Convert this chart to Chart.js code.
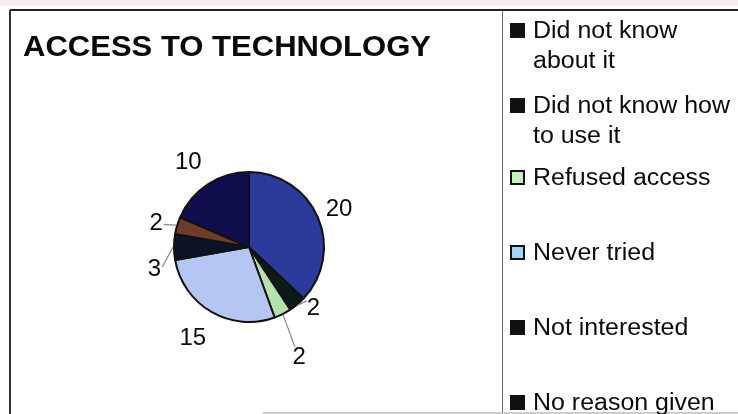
<!DOCTYPE html>
<html>
<head>
<meta charset="utf-8">
<script src="https://cdn.jsdelivr.net/npm/chart.js@4"></script>
<style>
  body { margin: 0; background: #fff; }
  #wrap { position: relative; width: 738px; height: 414px; overflow: hidden; font-family: "Liberation Sans", Arial, sans-serif; color: #0a0a0a; }
  #wrap canvas { position: absolute; left: 0; top: 0; }
  .line { position: absolute; background: #222; }
  #title { position: absolute; left: 23px; top: 32px; font-size: 29px; line-height: 29px; font-weight: bold; white-space: nowrap; transform: scaleX(1.07); transform-origin: left top; }
  .lg { position: absolute; font-size: 23px; line-height: 23px; white-space: nowrap; transform: scaleX(1.085); transform-origin: left top; }
  .sw { position: absolute; width: 15px; height: 15px; box-sizing: border-box; border: 2px solid #111; }
</style>
</head>
<body>
<div id="wrap">
  <canvas id="pie" width="738" height="414"></canvas>
  <div class="line" style="left:0;top:0;width:738px;height:6px;background:#f7ecee"></div>
  <div class="line" style="left:10px;top:9px;width:728px;height:2px"></div>
  <div class="line" style="left:9px;top:10px;width:2px;height:404px;background:#333"></div>
  <div class="line" style="left:502px;top:10px;width:1px;height:404px;background:#666"></div>
  <div class="line" style="left:263px;top:412px;width:475px;height:2px;background:#ccc"></div>
  <div id="title"></div>
  <div id="legend"></div>
</div>
<script>
const chartTitle = "ACCESS TO TECHNOLOGY";
const categories = ["Did not know about it", "Did not know how to use it", "Refused access", "Never tried", "Not interested", "No reason given", "Other"];
const values = [20, 2, 2, 15, 3, 2, 10];
const sliceColors = ["#2c3a9c", "#0b1c18", "#b6e2b0", "#b6c6f2", "#0a1426", "#6e3c28", "#110e4e"];
// legend as it shows in the picture (last entry is cut off by the frame)
const legendLines = [["Did not know", "about it"], ["Did not know how", "to use it"], ["Refused access"], ["Never tried"], ["Not interested"], ["No reason given"]];
const legendSwatch = ["#111", "#111", "#c6eec0", "#a8d2f2", "#111", "#111"];

document.getElementById("title").textContent = chartTitle;

// legend rows: baseline of first line of each entry
const rowBase = [38, 113, 185, 260, 335, 410];
const legend = document.getElementById("legend");
legendLines.forEach((lines, i) => {
    const sw = document.createElement("div");
    sw.className = "sw";
    sw.style.left = "510px";
    sw.style.top = (rowBase[i] - 15) + "px";
    sw.style.background = legendSwatch[i];
    legend.appendChild(sw);
    lines.forEach((txt, j) => {
        const d = document.createElement("div");
        d.className = "lg";
        d.textContent = txt;
        d.style.left = "533px";
        d.style.top = (rowBase[i] + j * 30 - 19.5) + "px";
        legend.appendChild(d);
    });
});

// value labels outside the pie, with thin leader lines for small slices
const outLabels = {
    id: "outLabels",
    afterDatasetsDraw(chart, args, opts) {
        const ctx = chart.ctx;
        const meta = chart.getDatasetMeta(0);
        ctx.save();
        ctx.font = "24px 'Liberation Sans', Arial, sans-serif";
        ctx.fillStyle = "#0a0a0a";
        ctx.textAlign = "center";
        ctx.textBaseline = "middle";
        meta.data.forEach((arc, i) => {
            const cx = arc.x, cy = arc.y, r = arc.outerRadius;
            const mid = (arc.startAngle + arc.endAngle) / 2;
            const a = mid + opts.angleShift[i] * Math.PI / 180;
            const d = r + opts.offset[i];
            const lx = cx + d * Math.cos(a), ly = cy + d * Math.sin(a);
            if (opts.leader[i]) {
                ctx.strokeStyle = "#8a8a8a";
                ctx.lineWidth = 1.2;
                ctx.beginPath();
                ctx.moveTo(cx + (r + 1) * Math.cos(mid), cy + (r + 1) * Math.sin(mid));
                const e = d - opts.leader[i];
                ctx.lineTo(cx + e * Math.cos(a), cy + e * Math.sin(a));
                ctx.stroke();
            }
            ctx.fillText(String(values[i]), lx, ly + 1);
        });
        ctx.restore();
    }
};

new Chart(document.getElementById("pie"), {
    type: "pie",
    data: {
        labels: categories,
        datasets: [{
            data: values,
            backgroundColor: sliceColors,
            borderColor: "#111",
            borderWidth: 2,
            radius: 75
        }]
    },
    options: {
        responsive: false,
        animation: false,
        layout: { padding: { left: 149, right: 389, top: 147, bottom: 67 } },
        plugins: {
            legend: { display: false },
            tooltip: { enabled: false },
            outLabels: {
                offset: [23, 13, 45, 31, 22, 21, 30],
                angleShift: [0, -7, 2, 2, -13, -2, -2],
                leader: [0, 9, 10, 0, 8, 8, 0]
            }
        }
    },
    plugins: [outLabels]
});
</script>
</body>
</html>
